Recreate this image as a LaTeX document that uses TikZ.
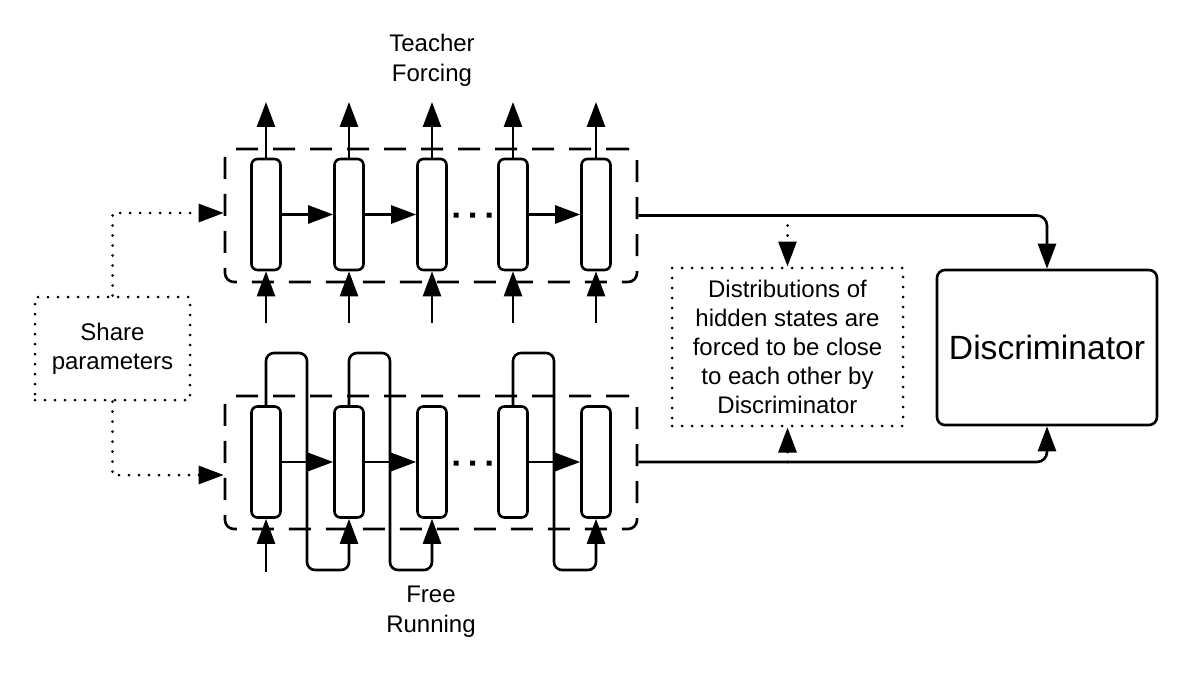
\documentclass[tikz,border=0pt]{standalone}
\usepackage{fontspec}
\setmainfont{Liberation Sans}
\usetikzlibrary{arrows.meta}
\begin{document}
\begin{tikzpicture}[x=0.5pt,y=-0.5pt,
  line width=1.3pt,
  arr/.style={-{Triangle[length=12.5pt,width=9pt]}},
  cell/.style={draw,rounded corners=3pt,minimum width=14.5pt,minimum height=55.5pt,inner sep=0pt},
  grp/.style={draw,rounded corners=4.5pt,dash pattern=on 11pt off 7.5pt,minimum width=206pt,minimum height=66.5pt,inner sep=0pt},
  dotbox/.style={draw,line cap=round,dash pattern=on 0pt off 5pt,line width=1.5pt,inner sep=0pt,align=center,font=\fontsize{12}{14.5}\selectfont},
  dotline/.style={line cap=round,dash pattern=on 0pt off 5pt,line width=1.5pt},
  lbl/.style={align=center,font=\fontsize{12}{15}\selectfont,inner sep=0pt}
]
\useasboundingbox (0,0) rectangle (1200,674);

% group boxes
\node[grp] (tbox) at (431,215.5) {};
\node[grp] (bbox) at (431,462.5) {};

% cells
\foreach \i/\x in {1/266,2/349,3/432,4/513,5/596}{
  \node[cell] (t\i) at (\x,214.5) {};
  \node[cell] (b\i) at (\x,462) {};
}

% top outputs and inputs
\foreach \i in {1,...,5}{
  \coordinate (to\i) at (t\i.north |- 0,102);
  \coordinate (ti\i) at (t\i.south |- 0,323);
  \draw[arr] (t\i.north) -- (to\i);
  \draw[arr] (ti\i) -- (t\i.south);
}
% horizontal recurrences
\draw[arr] (t1) -- (t2);
\draw[arr] (t2) -- (t3);
\draw[arr] (t4) -- (t5);
\draw[arr] (b1) -- (b2);
\draw[arr] (b2) -- (b3);
\draw[arr] (b4) -- (b5);

% ellipsis dots
\fill (453.5,212.5) rectangle ++(5,5) (470,212.5) rectangle ++(5,5) (486.5,212.5) rectangle ++(5,5);
\fill (453.5,460.5) rectangle ++(5,5) (470,460.5) rectangle ++(5,5) (486.5,460.5) rectangle ++(5,5);

% free running input and loops
\coordinate (bi1) at (b1.south |- 0,572);
\draw[arr] (bi1) -- (b1.south);
\coordinate (k1) at (307,353);
\coordinate (k2) at (390,353);
\coordinate (k4) at (554,353);
\draw[arr,rounded corners=4pt] (b1.north) |- (k1) |- (b2.south |- 0,570) -- (b2.south);
\draw[arr,rounded corners=4pt] (b2.north) |- (k2) |- (b3.south |- 0,570) -- (b3.south);
\draw[arr,rounded corners=4pt] (b4.north) |- (k4) |- (b5.south |- 0,570) -- (b5.south);

% labels
\node[lbl] (tf) at (432,60) {Teacher\\Forcing};
\node[lbl] (fr) at (431,612) {Free\\Running};

% share parameters
\node[dotbox,minimum width=77.5pt,minimum height=51.5pt] (share) at (112.5,348.5) {Share\\parameters};
\coordinate (sa) at (tbox.west |- 0,213);
\coordinate (sb) at (bbox.west |- 0,475);
\draw[dotline,arr] (share.north) |- (sa);
\draw[dotline,arr] (share.south) |- (sb);

% discriminator
\node[draw,rounded corners=4pt,minimum width=110pt,minimum height=77.5pt,inner sep=0pt,font=\fontsize{16.8}{20}\selectfont] (disc) at (1047,347.5) {Discriminator};
\draw[arr,rounded corners=5pt] (tbox.east) -| (disc.north);
\coordinate (be) at (bbox.east |- 0,462);
\draw[arr,rounded corners=5pt] (be) -| (disc.south);

% distributions box
\node[dotbox,minimum width=115.5pt,minimum height=79pt] (dist) at (787.5,347) {Distributions of\\hidden states are\\forced to be close\\to each other by\\Discriminator};
\coordinate (da) at (dist.north |- tbox.east);
\coordinate (db) at (dist.south |- be);
\draw[dotline,arr] (da) -- (dist.north);
\draw[dotline,arr] (db) -- (dist.south);
\end{tikzpicture}
\end{document}
